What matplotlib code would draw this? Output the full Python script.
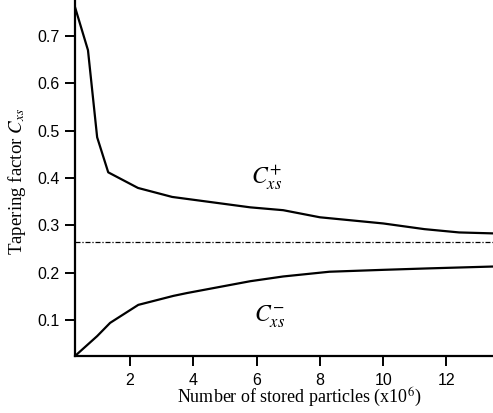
import matplotlib
matplotlib.use("Agg")
import matplotlib.pyplot as plt

# Tapering factor versus number of stored particles (in units of 1e6)
n_plus = [0.26, 0.67, 0.96, 1.31, 2.25, 3.33, 5.8, 6.84, 8.0, 10.0, 11.3, 12.4, 13.47]
c_plus = [0.761, 0.670, 0.486, 0.412, 0.379, 0.360, 0.338, 0.332, 0.317, 0.304, 0.292, 0.285, 0.283]

n_minus = [0.26, 0.96, 1.37, 2.26, 3.37, 3.8, 5.8, 6.84, 8.3, 10.0, 11.4, 13.47]
c_minus = [0.024, 0.066, 0.094, 0.132, 0.151, 0.157, 0.182, 0.192, 0.202, 0.206, 0.209, 0.213]

c_limit = 0.264

x_ticks = [2, 4, 6, 8, 10, 12]
y_ticks = [0.1, 0.2, 0.3, 0.4, 0.5, 0.6, 0.7]

plt.rcParams["mathtext.fontset"] = "stix"

fig = plt.figure(figsize=(4.93, 4.13), dpi=100)
ax = fig.add_axes([75 / 493, 57 / 413, 418 / 493, 356 / 413])

ax.plot(n_plus, c_plus, color="black", lw=1.6)
ax.plot(n_minus, c_minus, color="black", lw=1.6)
ax.axhline(c_limit, color="black", lw=0.9, linestyle=(0, (4, 1.5, 1, 1.5)))

ax.set_xlim(0.26, 13.47)
ax.set_ylim(0.024, 0.776)
ax.set_xticks(x_ticks)
ax.set_yticks(y_ticks)
ax.set_yticklabels([f"{v:.1f}" for v in y_ticks])

for s in ("top", "right"):
    ax.spines[s].set_visible(False)
for s in ("left", "bottom"):
    ax.spines[s].set_linewidth(1.6)

ax.tick_params(direction="out", length=7.5, width=1.4, labelsize=11.5)
ax.tick_params(axis="y", pad=3.5)
ax.tick_params(axis="x", pad=4.5)
for lbl in ax.get_xticklabels() + ax.get_yticklabels():
    lbl.set_fontfamily("Liberation Sans")

ax.set_xlabel(r"Number of stored particles (x10$^6$)", fontfamily="Liberation Serif",
              fontsize=13, labelpad=-1)
ax.xaxis.set_label_coords(0.536, -0.085)
ax.set_ylabel(r"Tapering factor $C_{xs}$", fontfamily="Liberation Serif",
              fontsize=13.6)
ax.yaxis.set_label_coords(-0.113, 0.49)

ax.text(6.3, 0.40, r"$C_{xs}^{+}$", fontsize=17, ha="center", va="center")
ax.text(6.4, 0.106, r"$C_{xs}^{-}$", fontsize=17, ha="center", va="center")

fig.savefig("out.png", dpi=100)
